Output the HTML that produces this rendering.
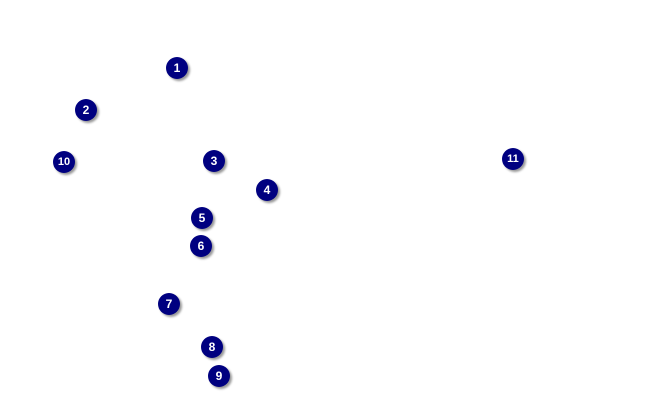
<!DOCTYPE html>
<html><head><style>
body{margin:0;width:649px;height:413px;background:#fff;position:relative;overflow:hidden;font-family:"Liberation Sans",sans-serif}
.c{position:absolute;width:22px;height:22px;border-radius:50%;background:#000080;color:#fff;font-weight:bold;font-size:12px;line-height:23px;text-align:center;box-shadow:2px 2px 2px #999}
</style></head><body>
<div class="c" style="left:166px;top:57px">1</div>
<div class="c" style="left:75px;top:99px">2</div>
<div class="c" style="left:203px;top:150px">3</div>
<div class="c" style="left:256px;top:179px">4</div>
<div class="c" style="left:191px;top:207px">5</div>
<div class="c" style="left:190px;top:235px">6</div>
<div class="c" style="left:158px;top:293px">7</div>
<div class="c" style="left:201px;top:336px">8</div>
<div class="c" style="left:208px;top:365px">9</div>
<div class="c" style="left:53px;top:151px;font-size:11px">10</div>
<div class="c" style="left:502px;top:148px;font-size:11px">11</div>
</body></html>
